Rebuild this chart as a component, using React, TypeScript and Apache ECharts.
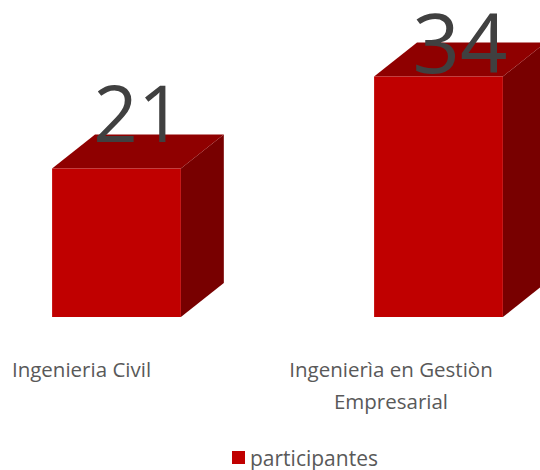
import React, { useEffect, useRef } from "react";
import * as echarts from "echarts";

const categories = ["Ingenieria Civil", "Ingenierìa en Gestiòn Empresarial"];
const participantes = [21, 34];
const seriesName = "participantes";

const FONT = "'Open Sans', 'Noto Sans', sans-serif";

function wrap(s: string, max: number): string[] {
  const words = s.split(" ");
  const lines: string[] = [];
  let cur = "";
  for (const w of words) {
    const next = cur ? cur + " " + w : w;
    if (next.length > max && cur) {
      lines.push(cur);
      cur = w;
    } else cur = next;
  }
  if (cur) lines.push(cur);
  return lines;
}

export default function App() {
  const ref = useRef<HTMLDivElement>(null);
  useEffect(() => {
    if (!ref.current) return;
    const chart = echarts.init(ref.current, undefined, { renderer: "svg" });
    const data = participantes.map((v, i) => [i, v]);
    const labelStyle = {
      fontFamily: FONT,
      fontSize: 20.5,
      color: "#595959",
      lineHeight: 32,
    };
    chart.setOption({
      animation: false,
      backgroundColor: "#ffffff",
      grid: {
        left: 116.5,
        right: 101.5,
        top: 34,
        bottom: 153,
        containLabel: false,
        outerBoundsMode: "none",
      },
      legend: {
        left: 232,
        top: 447,
        padding: 0,
        itemWidth: 13,
        itemHeight: 13,
        icon: "rect",
        textStyle: { fontFamily: FONT, fontSize: 21, color: "#595959" },
        data: [{ name: seriesName, itemStyle: { color: "#C00000" } }],
      },
      xAxis: {
        type: "category",
        data: categories,
        boundaryGap: false,
        axisLine: { show: false },
        axisTick: { show: false },
        splitLine: { show: false },
        axisLabel: {
          interval: 0,
          margin: 36,
          hideOverlap: false,
          formatter: (val: string, idx: number) =>
            wrap(val, 22)
              .map((l) => `{c${idx}|${l}}`)
              .join("\n"),
          rich: {
            c0: { ...labelStyle, padding: [0, 70, 0, 0] },
            c1: { ...labelStyle, padding: [0, 95, 0, 0] },
          },
        },
      },
      yAxis: {
        type: "value",
        min: 0,
        max: 40,
        interval: 5,
        show: false,
        splitLine: { show: false },
      },
      series: [
        {
          name: seriesName,
          type: "custom",
          itemStyle: { color: "#C00000" },
          clip: false,
          data,
          renderItem: (params: any, api: any) => {
            const idx = params.dataIndex;
            const v = api.value(1);
            const [cx, yTop] = api.coord([api.value(0), v]);
            const [cx0] = api.coord([0, 0]);
            const [cx1] = api.coord([1, 0]);
            const [, yBase] = api.coord([api.value(0), 0]);
            const band = Math.abs(cx1 - cx0);
            const w = band * 0.4;
            const dx = w / 3;
            const dy = w * 0.264;
            const x0 = cx - w / 2;
            const x1 = cx + w / 2;
            const fs = idx === 0 ? 78 : 83;
            const lift = idx === 0 ? 56 : 36;
            return {
              type: "group",
              children: [
                {
                  type: "polygon",
                  shape: {
                    points: [
                      [x1, yTop],
                      [x1 + dx, yTop - dy],
                      [x1 + dx, yBase - dy],
                      [x1, yBase],
                    ],
                  },
                  style: { fill: "#780000" },
                },
                {
                  type: "polygon",
                  shape: {
                    points: [
                      [x0, yTop],
                      [x1, yTop],
                      [x1 + dx, yTop - dy],
                      [x0 + dx, yTop - dy],
                    ],
                  },
                  style: { fill: "#8F0000" },
                },
                {
                  type: "rect",
                  shape: { x: x0, y: yTop, width: w, height: yBase - yTop },
                  style: { fill: "#C00000" },
                },
                {
                  type: "text",
                  style: {
                    text: String(v),
                    x: cx + dx / 2,
                    y: yTop - lift,
                    align: "center",
                    verticalAlign: "middle",
                    lineHeight: 64,
                    fontFamily: FONT,
                    fontSize: fs,
                    fill: "#404040",
                  },
                },
              ],
            };
          },
        },
      ],
    });
    return () => chart.dispose();
  }, []);
  return (
    <div
      ref={ref}
      style={{ position: "fixed", left: 0, top: 0, width: 540, height: 470 }}
    />
  );
}
